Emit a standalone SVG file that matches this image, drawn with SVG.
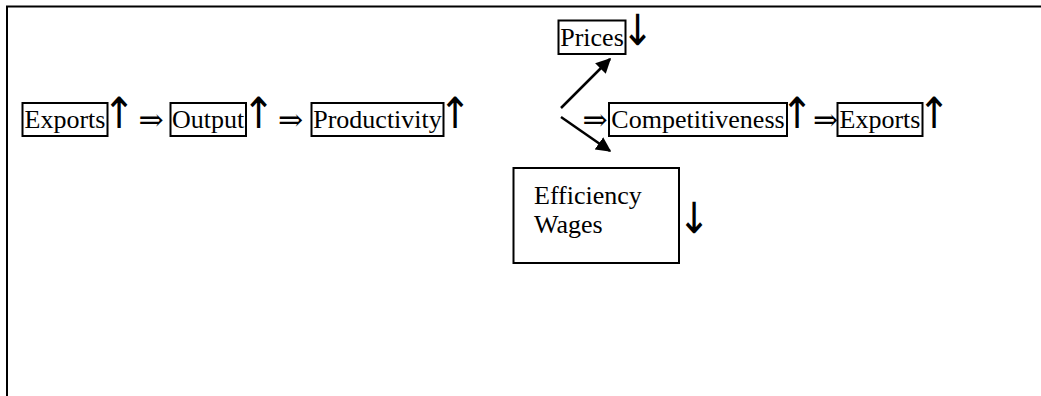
<svg xmlns="http://www.w3.org/2000/svg" width="1041" height="396" viewBox="0 0 1041 396">
<defs>
<style>
.frame{stroke:#000;stroke-width:2;fill:none}
.box{fill:none;stroke:#000;stroke-width:2}
.t{font-family:"Liberation Serif","Times New Roman",serif;font-size:26px;fill:#000}
.sym{font-family:"DejaVu Serif",serif;font-size:30px;fill:#000}
.arr{font-family:"DejaVu Sans Condensed","DejaVu Sans",sans-serif;font-size:43px;fill:#000}
.conn{stroke:#000;stroke-width:2.5;fill:none}
</style>
<marker id="ah" viewBox="0 0 10 10" refX="9" refY="5" markerWidth="6" markerHeight="6" markerUnits="strokeWidth" orient="auto">
<path d="M0,0 L10,5 L0,10 z" fill="#000"/>
</marker>
</defs>
<rect width="1041" height="396" fill="#fff"/>
<g id="frame">
<line class="frame" x1="6" y1="6.5" x2="1041" y2="6.5"/>
<line class="frame" x1="7" y1="6" x2="7" y2="396"/>
</g>
<g id="exports1">
<rect class="box" x="22.5" y="103" width="85" height="33"/>
<text class="t" x="65" y="128" text-anchor="middle">Exports</text>
<text class="arr" x="119" y="128" text-anchor="middle">↑</text>
</g>
<text class="sym" x="151" y="130" text-anchor="middle">⇒</text>
<g id="output">
<rect class="box" x="170.5" y="103" width="75.5" height="33"/>
<text class="t" x="208" y="128" text-anchor="middle">Output</text>
<text class="arr" x="258.5" y="128" text-anchor="middle">↑</text>
</g>
<text class="sym" x="290.5" y="130" text-anchor="middle">⇒</text>
<g id="productivity">
<rect class="box" x="311.5" y="103" width="132" height="33"/>
<text class="t" x="377.5" y="128" text-anchor="middle">Productivity</text>
<text class="arr" x="455" y="128" text-anchor="middle">↑</text>
</g>
<g id="prices">
<rect class="box" x="558.5" y="20.5" width="67" height="33.5"/>
<text class="t" x="592" y="45.5" text-anchor="middle">Prices</text>
<text class="arr" x="637.5" y="45" text-anchor="middle">↓</text>
</g>
<text class="sym" x="595" y="130" text-anchor="middle">⇒</text>
<g id="competitiveness">
<rect class="box" x="609" y="103" width="178" height="33"/>
<text class="t" x="698" y="128" text-anchor="middle">Competitiveness</text>
<text class="arr" x="797" y="128" text-anchor="middle">↑</text>
</g>
<text class="sym" x="825.5" y="130" text-anchor="middle">⇒</text>
<g id="exports2">
<rect class="box" x="837.5" y="103" width="85" height="33"/>
<text class="t" x="880" y="128" text-anchor="middle">Exports</text>
<text class="arr" x="934" y="128" text-anchor="middle">↑</text>
</g>
<g id="efficiency-wages">
<rect class="box" x="513.5" y="168" width="165.5" height="95"/>
<text class="t" x="534" y="204">Efficiency</text>
<text class="t" x="534" y="233">Wages</text>
<text class="arr" x="694" y="233" text-anchor="middle">↓</text>
</g>
<g id="connectors">
<line class="conn" x1="561" y1="108" x2="610" y2="59" marker-end="url(#ah)"/>
<line class="conn" x1="561" y1="117" x2="610" y2="151" marker-end="url(#ah)"/>
</g>
</svg>
